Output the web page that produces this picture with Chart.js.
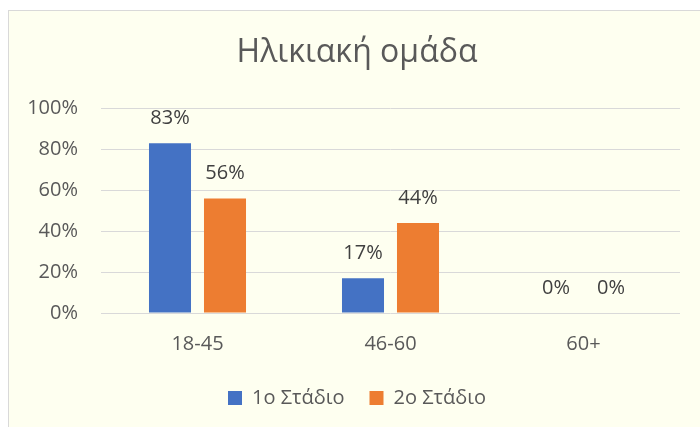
<!DOCTYPE html>
<html>
<head>
<meta charset="utf-8">
<script src="https://cdn.jsdelivr.net/npm/chart.js@4.4.1/dist/chart.umd.min.js"></script>
<style>
  html, body { margin: 0; padding: 0; background: #fff; overflow: hidden; }
  #box {
    position: absolute; left: 8px; top: 10px;
    width: 698px; height: 428px;
    border: 1px solid #d9d9d9;
    background: #fefff0;
  }
</style>
</head>
<body>
<div id="box"><canvas id="myChart" width="698" height="428"></canvas></div>
<script>
const categories = ['18-45', '46-60', '60+'];
const stage1 = [83, 17, 0];
const stage2 = [56, 44, 0];
const seriesNames = ['1ο Στάδιο', '2ο Στάδιο'];
const yTicks = [0, 20, 40, 60, 80, 100];

const FONT = '"Open Sans", sans-serif';

// etiquetas de valor encima de cada barra
const valueLabels = {
    id: 'valueLabels',
    afterLayout(chart) {
        // deja sitio a "100%" (las etiquetas se recortan al borde del eje)
        chart.scales.y.left = 0;
    },
    afterDatasetsDraw(chart) {
        const ctx = chart.ctx;
        ctx.save();
        ctx.font = '20px ' + FONT;
        ctx.fillStyle = '#404040';
        ctx.textAlign = 'center';
        ctx.textBaseline = 'middle';
        chart.data.datasets.forEach((ds, i) => {
            chart.getDatasetMeta(i).data.forEach((bar, j) => {
                ctx.fillText(ds.data[j] + '%', bar.x, bar.y - 25);
            });
        });
        ctx.restore();
    }
};

const ctx = document.getElementById('myChart').getContext('2d');
const myChart = new Chart(ctx, {
    type: 'bar',
    data: {
        labels: categories,
        datasets: [
            { label: seriesNames[0], data: stage1, backgroundColor: '#4472c4' },
            { label: seriesNames[1], data: stage2, backgroundColor: '#ed7d31' }
        ]
    },
    options: {
        responsive: false,
        animation: false,
        events: [],
        layout: { padding: { left: 25, right: 27, top: 0, bottom: 21 } },
        datasets: {
            bar: { categoryPercentage: 0.57, barPercentage: 0.764 }
        },
        plugins: {
            title: {
                display: true,
                text: 'Ηλικιακή ομάδα',
                color: '#595959',
                font: { family: FONT, size: 32, weight: 'normal' },
                padding: { top: 23, bottom: 36 }
            },
            legend: {
                position: 'bottom',
                labels: {
                    color: '#595959',
                    font: { family: FONT, size: 20 },
                    boxWidth: 14,
                    boxHeight: 14,
                    padding: 25
                }
            },
            tooltip: { enabled: false }
        },
        scales: {
            x: {
                grid: { display: false },
                border: { display: false },
                ticks: { color: '#595959', font: { family: FONT, size: 20 }, padding: 11 },
                afterFit: s => { s.height = 50; }
            },
            y: {
                min: 0,
                max: 100,
                afterBuildTicks: s => { s.ticks = yTicks.map(v => ({ value: v })); },
                grid: { color: '#d9d9d9', lineWidth: 1, drawTicks: false },
                border: { display: false },
                ticks: {
                    color: '#595959',
                    font: { family: FONT, size: 20 },
                    padding: 23,
                    callback: v => v + '%'
                },
                afterFit: s => { s.width = 67; }
            }
        }
    },
    plugins: [valueLabels]
});
</script>
</body>
</html>
